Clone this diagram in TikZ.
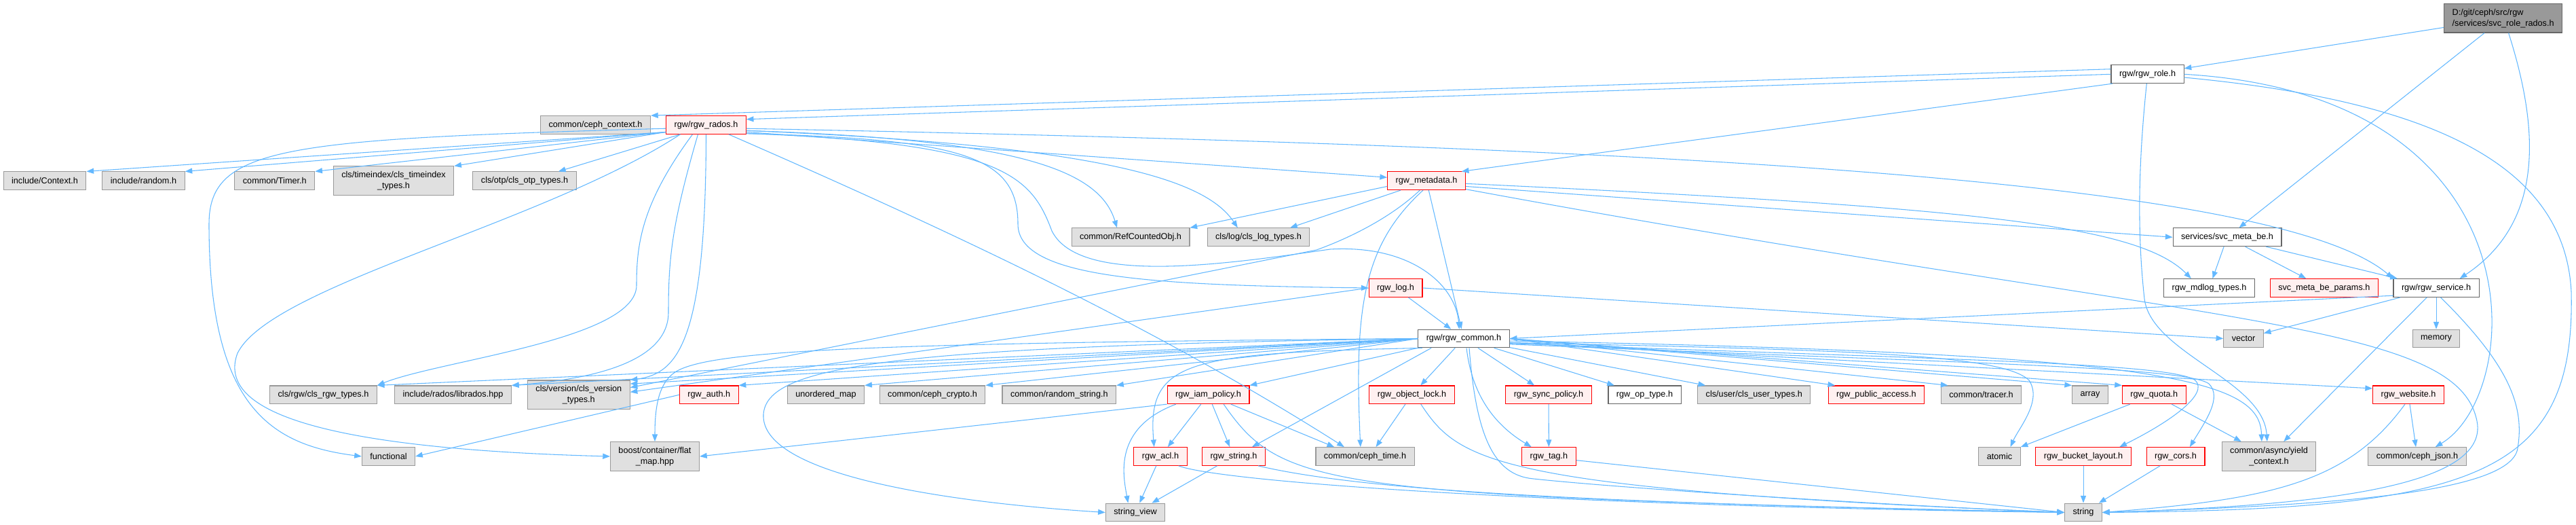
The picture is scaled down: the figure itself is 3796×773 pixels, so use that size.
\documentclass[tikz,border=0pt]{standalone}
\usepackage{fontspec}
\setmainfont{Liberation Sans}
\usepackage{tikz}
\usetikzlibrary{arrows.meta}
\usepackage{xcolor}
\definecolor{edgeblue}{HTML}{63B8FF}
\definecolor{extfill}{HTML}{E0E0E0}
\definecolor{extline}{HTML}{999999}
\definecolor{docline}{HTML}{666666}
\definecolor{redfill}{HTML}{FFF0F0}

\begin{document}
\begin{tikzpicture}[x=0.75pt,y=-0.75pt,
    hdr/.style={rectangle,draw,line width=0.8pt,minimum height=20pt,inner xsep=9pt,inner ysep=2pt,font=\fontsize{9.5}{12}\selectfont,align=center},
    extbox/.style={hdr,fill=extfill,draw=extline},
    docbox/.style={hdr,fill=white,draw=docline},
    redbox/.style={hdr,fill=redfill,draw=red},
    rootbox/.style={hdr,fill=extline,draw=docline,align=left},
    twoline/.style={minimum height=32pt},
    dep/.style={draw=edgeblue,line width=0.8pt,-{Triangle[length=8pt,width=6pt]}}]

\useasboundingbox (0,0) rectangle (3796,773);

% top rows
\node[rootbox,twoline] (root) at (3688.6,26.7) {D:/git/ceph/src/rgw\\/services/svc\_role\_rados.h};
\node[docbox] (role) at (3164.5,109.3) {rgw/rgw\_role.h};
\node[extbox] (cephctx) at (877.5,184) {common/ceph\_context.h};
\node[redbox] (rados) at (1040.5,184) {rgw/rgw\_rados.h};
\node[extbox] (context) at (66,266.3) {include/Context.h};
\node[extbox] (random) at (211.5,266.3) {include/random.h};
\node[extbox] (timer) at (404.8,266.3) {common/Timer.h};
\node[extbox,twoline] (timeidx) at (580,266.3) {cls/timeindex/cls\_timeindex\\\_types.h};
\node[extbox] (otp) at (773,266.3) {cls/otp/cls\_otp\_types.h};
\node[redbox] (meta) at (2102,266.3) {rgw\_metadata.h};
\node[extbox] (refobj) at (1666,349.2) {common/RefCountedObj.h};
\node[extbox] (clslog) at (1854.5,349.2) {cls/log/cls\_log\_types.h};
\node[docbox] (metabe) at (3282,349.3) {services/svc\_meta\_be.h};
\node[redbox] (rgwlog) at (2056.5,424) {rgw\_log.h};
\node[docbox] (mdlog) at (3255.5,424) {rgw\_mdlog\_types.h};
\node[redbox] (beparams) at (3424.8,424) {svc\_meta\_be\_params.h};
\node[docbox] (service) at (3590,424) {rgw/rgw\_service.h};
\node[extbox] (vector) at (3306,498.5) {vector};
\node[extbox] (memory) at (3590,498.5) {memory};
\node[docbox] (common) at (2157,498.5) {rgw/rgw\_common.h};

% middle row
\node[extbox] (clsrgw) at (476.5,581.3) {cls/rgw/cls\_rgw\_types.h};
\node[extbox] (librados) at (667.5,581.3) {include/rados/librados.hpp};
\node[extbox,twoline] (clsver) at (852.8,581.3) {cls/version/cls\_version\\\_types.h};
\node[redbox] (auth) at (1044.8,581.3) {rgw\_auth.h};
\node[extbox] (umap) at (1217,581.3) {unordered\_map};
\node[extbox] (crypto) at (1374,581.3) {common/ceph\_crypto.h};
\node[extbox] (randstr) at (1560.8,581.3) {common/random\_string.h};
\node[redbox] (iam) at (1780.5,581.3) {rgw\_iam\_policy.h};
\node[redbox] (objlock) at (2080.5,581.3) {rgw\_object\_lock.h};
\node[redbox] (syncpol) at (2282,581.3) {rgw\_sync\_policy.h};
\node[docbox] (optype) at (2423.5,581.3) {rgw\_op\_type.h};
\node[extbox] (clsuser) at (2584.8,581.3) {cls/user/cls\_user\_types.h};
\node[redbox] (pubacc) at (2764.8,581.3) {rgw\_public\_access.h};
\node[extbox] (tracer) at (2919.5,581.3) {common/tracer.h};
\node[extbox] (array) at (3080,581.3) {array};
\node[redbox] (quota) at (3174.3,581.3) {rgw\_quota.h};
\node[redbox] (website) at (3549,581.3) {rgw\_website.h};

% lower rows
\node[extbox] (functional) at (572.5,672) {functional};
\node[extbox,twoline] (flatmap) at (965,672) {boost/container/flat\\\_map.hpp};
\node[redbox] (acl) at (1710,672) {rgw\_acl.h};
\node[redbox] (rgwstr) at (1818,672) {rgw\_string.h};
\node[extbox] (cephtime) at (2011.5,672) {common/ceph\_time.h};
\node[redbox] (tag) at (2282.4,672) {rgw\_tag.h};
\node[extbox] (atomic) at (2946.5,672) {atomic};
\node[redbox] (bucket) at (3070,672) {rgw\_bucket\_layout.h};
\node[redbox] (cors) at (3206,672) {rgw\_cors.h};
\node[extbox,twoline] (yield) at (3343.5,672) {common/async/yield\\\_context.h};
\node[extbox] (json) at (3562,672) {common/ceph\_json.h};
\node[extbox] (strview) at (1673,754.5) {string\_view};
\node[extbox] (string) at (3070,754.5) {string};

% root and rgw_role.h
\draw[dep] (root) -- (role);
\draw[dep] (root) -- (metabe);
\draw[dep] (root.-70) .. controls (3745,200) and (3745,330) .. ([xshift=26pt]service.north);
\draw[dep] (role.172) -- (cephctx.north east);
\draw[dep] (role.180) -- (rados.8);
\draw[dep] (role.195) -- (meta.15);
\draw[dep] (role.265) .. controls (3150,250) and (3150,350) .. (3160,440) .. controls (3170,520) and (3335,560) .. ([xshift=-2pt]yield.north);
\draw[dep] (role.east) .. controls (3750,140) and (3720,580) .. ([xshift=20pt]json.north);
\draw[dep] (role.-5) .. controls (3600,150) and (3780,250) .. (3789,430) .. controls (3795,700) and (3650,750) .. (string.east);

% rgw_rados.h
\draw[dep] (rados.190) -- (context.north east);
\draw[dep] (rados.190) -- (random.north east);
\draw[dep] (rados.190) -- (timer.north east);
\draw[dep] (rados.190) -- (timeidx.north east);
\draw[dep] (rados.200) -- ([xshift=-20pt]otp.north east);
\draw[dep] (rados.185) .. controls (420,205) and (308,215) .. (308,330) .. controls (308,600) and (400,655) .. (functional.west);
\draw[dep] (rados.200) .. controls (800,330) and (400,420) .. (350,520) .. controls (320,600) and (450,660) .. (flatmap.west);
\draw[dep] ([xshift=-15pt]rados.south) .. controls (945,300) and (938,360) .. (938,420) .. controls (938,500) and (650,530) .. (clsrgw.north east);
\draw[dep] ([xshift=-9pt]rados.south) .. controls (990,330) and (985,380) .. (985,460) .. controls (985,540) and (850,560) .. (librados.north east);
\draw[dep] (rados.south) .. controls (1040,500) and (1000,550) .. (clsver.north east);
\draw[dep] ([xshift=25pt]rados.south) .. controls (1400,340) and (1700,480) .. ([xshift=-23pt]cephtime.north);
\draw[dep] (rados.-5) .. controls (2400,215) and (3350,260) .. (service.north west);
\draw[dep] (rados.-10) -- (meta.175);
\draw[dep] (rados.-8) .. controls (1500,205) and (1620,250) .. ([xshift=-15pt]refobj.north);
\draw[dep] (rados.-8) .. controls (1650,215) and (1780,270) .. ([xshift=-23pt]clslog.north);
\draw[dep] (rados.-12) .. controls (1420,205) and (1500,230) .. (1500,330) .. controls (1500,410) and (1700,420) .. (rgwlog.west);
\draw[dep] (rados.-12) .. controls (1480,210) and (1520,260) .. (1550,340) .. controls (1590,420) and (1800,390) .. (1960,367) .. controls (2080,360) and (2145,420) .. ([xshift=-5pt]common.north);

% rgw_metadata.h
\draw[dep] (meta.188) -- (refobj.north east);
\draw[dep] (meta.200) -- ([xshift=-22pt]clslog.north east);
\draw[dep] (meta.235) .. controls (2050,320) and (1990,350) .. (1940,368) -- (clsver.8);
\draw[dep] (meta.250) .. controls (2010,360) and (1995,450) .. ([xshift=-5pt]cephtime.north);
\draw[dep] (meta) -- (common);
\draw[dep] (meta.-8) -- (metabe.west);
\draw[dep] (meta.-4) .. controls (2900,305) and (3150,330) .. ([xshift=-20pt]mdlog.north);
\draw[dep] (meta.-12) .. controls (3250,480) and (3620,470) .. (3650,620) .. controls (3670,720) and (3400,745) .. (string.east);

% rgw_log.h, svc_meta_be.h, rgw_service.h
\draw[dep] (rgwlog) -- (common);
\draw[dep] (rgwlog.east) -- (vector.west);
\draw[dep] (rgwlog.west) -- (clsver.3);
\draw[dep] (metabe) -- (mdlog);
\draw[dep] (metabe) -- (beparams);
\draw[dep] (metabe) -- (service);
\draw[dep] (service) -- (memory);
\draw[dep] (service) -- (vector);
\draw[dep] (service) -- (yield);
\draw[dep] (service.-65) .. controls (3700,540) and (3720,600) .. (3710,660) .. controls (3700,730) and (3400,745) .. (string.east);
\draw[dep] (service.190) -- (common.east);

% rgw_common.h
\draw[dep] (common.west) -- (clsrgw.north east);
\draw[dep] (common.west) -- (librados.north east);
\draw[dep] (common.west) -- (clsver.12);
\draw[dep] (common.west) -- (auth.north east);
\draw[dep] (common.west) -- (umap.north east);
\draw[dep] (common.west) -- (crypto.north east);
\draw[dep] (common.west) -- (randstr.north east);
\draw[dep] (common.west) .. controls (1300,505) and (1060,515) .. (1000,545) .. controls (970,560) and (965,600) .. (flatmap.north);
\draw[dep] (common.west) .. controls (1300,510) and (1130,540) .. (1125,610) .. controls (1120,700) and (1400,740) .. (strview.west);
\draw[dep] (common.south west) -- (iam.north east);
\draw[dep] ([xshift=5pt]common.south west) .. controls (1750,520) and (1690,530) .. ([xshift=-7pt]acl.north);
\draw[dep] ([xshift=15pt]common.south west) -- ([xshift=-15pt]rgwstr.north east);
\draw[dep] (common) -- (objlock);
\draw[dep] ([xshift=3pt]common.south) .. controls (2170,590) and (2210,630) .. ([xshift=11pt]tag.north west);
\draw[dep] ([xshift=6pt]common.south) .. controls (2175,640) and (2200,700) .. (2260,705) .. controls (2400,720) and (2800,745) .. (string.west);
\draw[dep] (common) -- (syncpol);
\draw[dep] (common) -- (optype);
\draw[dep] (common) -- (clsuser);
\draw[dep] (common.east) -- ([xshift=8pt]pubacc.north west);
\draw[dep] (common.east) -- ([xshift=8pt]tracer.north west);
\draw[dep] (common.east) -- (array.north west);
\draw[dep] (common.east) -- (quota.north west);
\draw[dep] (common.-5) .. controls (2700,515) and (2950,520) .. (2990,560) .. controls (3010,590) and (2975,630) .. ([xshift=12pt]atomic.north);
\draw[dep] (common.-6) .. controls (2900,530) and (3200,535) .. (3235,560) .. controls (3255,580) and (3200,620) .. ([xshift=-13pt]bucket.north east);
\draw[dep] (common.-7) .. controls (2900,535) and (3220,540) .. (3255,565) .. controls (3275,585) and (3250,620) .. ([xshift=-17pt]cors.north east);
\draw[dep] (common.-3) .. controls (3200,520) and (3330,560) .. ([xshift=-8pt]yield.north);
\draw[dep] (common.-5) -- (website.170);

% lower includes
\draw[dep] (iam.south west) -- (flatmap.east);
\draw[dep] ([xshift=10pt]iam.south west) .. controls (1640,630) and (1655,700) .. ([xshift=-8pt]strview.north);
\draw[dep] (iam) -- (acl);
\draw[dep] (iam) -- (rgwstr);
\draw[dep] ([xshift=25pt]iam.south) -- ([xshift=-34pt]cephtime.north);
\draw[dep] ([xshift=17pt]iam.south) .. controls (1890,720) and (1950,730) .. (string.west);
\draw[dep] (acl) -- (strview);
\draw[dep] ([xshift=20pt]acl.south) .. controls (1800,710) and (2300,745) .. (string.west);
\draw[dep] (rgwstr) -- (strview);
\draw[dep] ([xshift=27pt]rgwstr.south) .. controls (2000,720) and (2300,740) .. (string.west);
\draw[dep] (objlock) -- ([xshift=12pt]cephtime.north);
\draw[dep] ([xshift=10pt]objlock.south) .. controls (2150,680) and (2200,720) .. (string.west);
\draw[dep] (syncpol) -- (tag);
\draw[dep] (tag.-8) -- (string.west);
\draw[dep] (quota) -- (atomic.north east);
\draw[dep] (quota) -- (yield);
\draw[dep] (bucket) -- (string);
\draw[dep] (cors) -- (string);
\draw[dep] (website.250) .. controls (3460,710) and (3350,735) .. (string.east);
\draw[dep] (website) -- (json);
\draw[dep] (auth.west) -- (functional.east);

\end{tikzpicture}
\end{document}
